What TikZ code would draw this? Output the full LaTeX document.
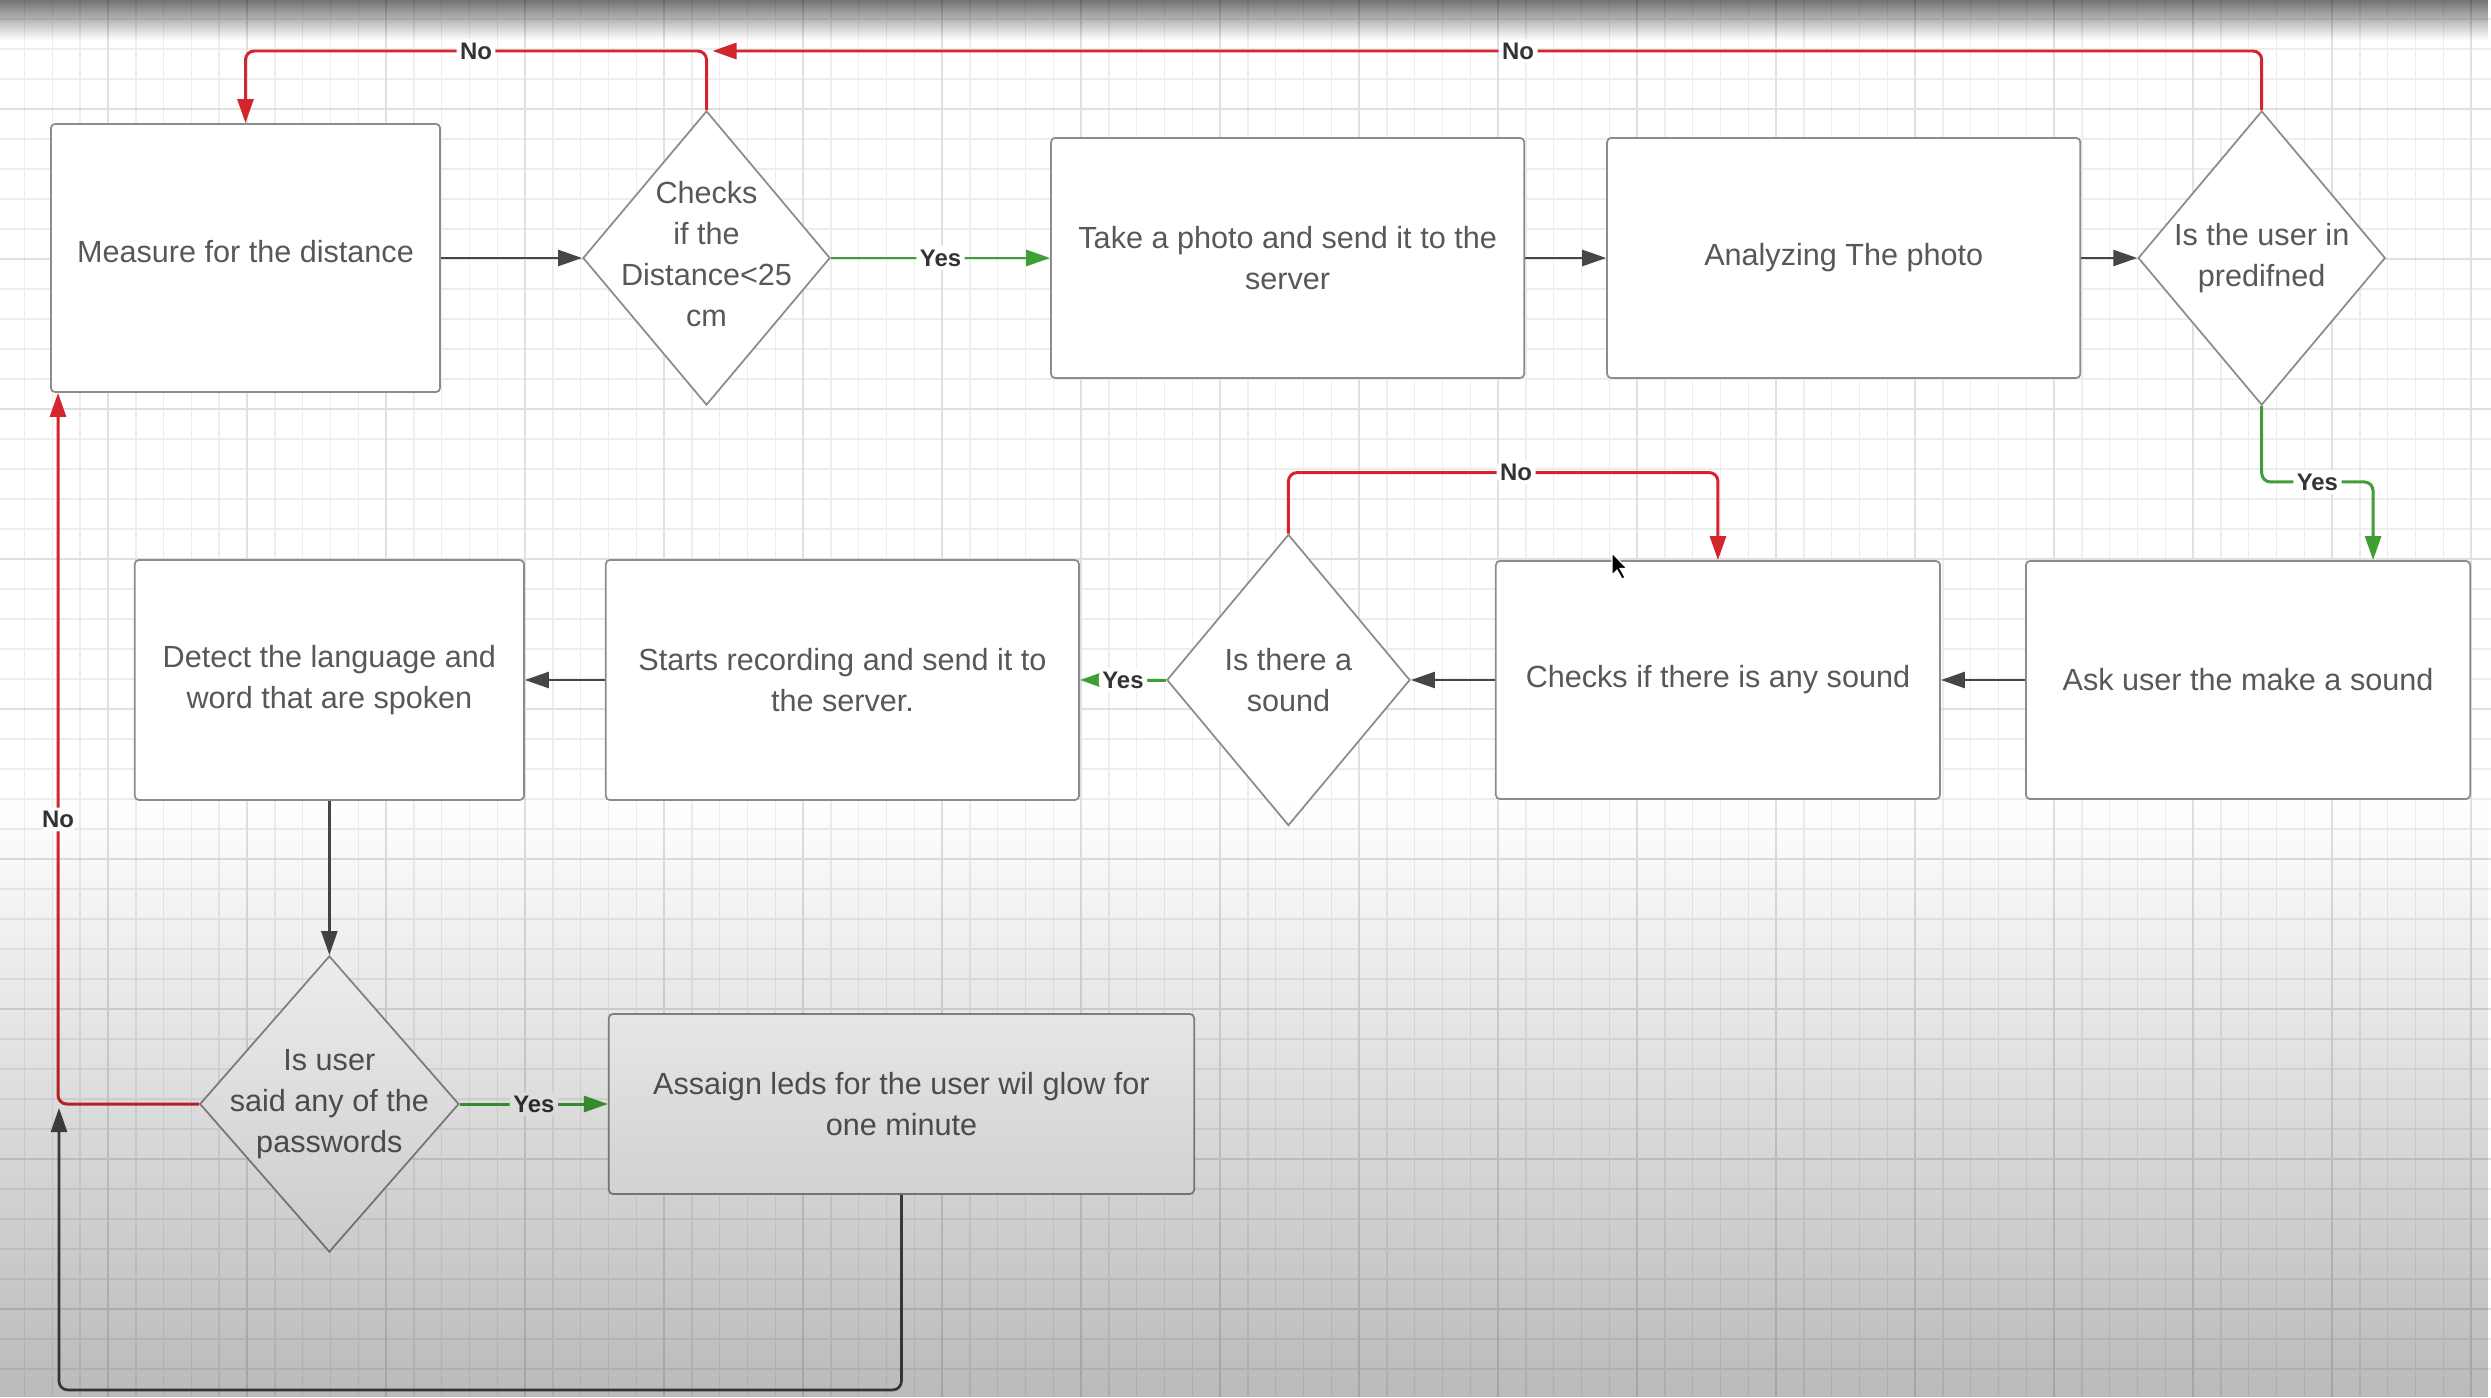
\documentclass[tikz,border=0pt]{standalone}
\usepackage{fontspec}
\setmainfont{Liberation Sans}
\usetikzlibrary{positioning, shapes.geometric, arrows.meta, fadings}

\definecolor{nored}{RGB}{212,36,44}
\definecolor{yesgreen}{RGB}{62,160,52}
\definecolor{boxtext}{RGB}{88,88,88}
\definecolor{boxline}{RGB}{140,140,140}
\definecolor{arrowgray}{RGB}{70,70,70}

\tikzfading[name=fadedown, top color=transparent!100, bottom color=transparent!0]
\tikzfading[name=fadeup, top color=transparent!0, bottom color=transparent!100]

\begin{document}
\begin{tikzpicture}[x=0.01cm, y=-0.01cm,
	box/.style={rectangle, draw=boxline, line width=0.5pt, rounded corners=1.2pt, fill=white, text=boxtext, align=center, font=\fontsize{8.7}{11.6}\selectfont, inner sep=0pt},
	decision/.style={diamond, draw=boxline, line width=0.5pt, fill=white, inner sep=0pt, minimum width=2.47cm, minimum height=2.94cm},
	dtext/.style={text=boxtext, align=center, font=\fontsize{8.7}{11.6}\selectfont},
	tip/.style={-{Triangle[length=0.24cm, width=0.16cm]}},
	flow/.style={tip, draw=arrowgray, line width=0.75pt},
	noline/.style={tip, draw=nored, line width=0.85pt, rounded corners=2.5pt},
	yesline/.style={tip, draw=yesgreen, line width=0.85pt, rounded corners=2.5pt},
	lbl/.style={fill=white, inner sep=1pt, text=black!80, font=\bfseries\fontsize{6.8}{7}\selectfont}]

	\clip (0,0) rectangle (2491,1397);
	\fill[white] (0,0) rectangle (2491,1397);
	\foreach \i in {0,...,89}
		\draw[black!7, line width=0.4pt] ({24.6+27.8*\i},0) -- ++(0,1397);
	\foreach \j in {0,...,46}
		\draw[black!7, line width=0.4pt] (0,{19+30*\j}) -- ++(2491,0);
	\foreach \i in {0,...,17}
		\draw[black!12, line width=0.6pt] ({108+139*\i},0) -- ++(0,1397);
	\foreach \j in {0,...,8}
		\draw[black!12, line width=0.6pt] (0,{109+150*\j}) -- ++(2491,0);

	\coordinate (toprow) at (0,51);
	\coordinate (loopend) at (59,1108);

	\node[box, minimum width=3.89cm, minimum height=2.68cm, label={[dtext, yshift=0.06cm]center:Measure for the distance}] (measure) at (245.5,258) {};
	\node[decision, right=1.41cm of measure, label={[dtext, yshift=0.04cm]center:Checks\\if the\\Distance<25\\cm}] (dist) {};
	\node[box, minimum width=4.73cm, minimum height=2.4cm, right=2.19cm of dist] (photo) {Take a photo and send it to the\\server};
	\node[box, minimum width=4.73cm, minimum height=2.4cm, right=0.81cm of photo] (analyze) {Analyzing The photo};
	\node[decision, right=0.56cm of analyze, label={[dtext]center:Is the user in\\predifned}] (predef) {};

	\node[box, minimum width=4.44cm, minimum height=2.38cm] (ask) at (2248,680) {Ask user the make a sound};
	\node[box, minimum width=4.44cm, minimum height=2.38cm, left=0.84cm of ask] (checks) {Checks if there is any sound};
	\node[decision, minimum width=2.43cm, minimum height=2.91cm, left=0.84cm of checks, label={[dtext]center:Is there a\\sound}] (sound) {};
	\node[box, minimum width=4.73cm, minimum height=2.4cm, left=0.86cm of sound] (record) {Starts recording and send it to\\the server.};
	\node[box, minimum width=3.89cm, minimum height=2.4cm, left=0.80cm of record] (detect) {Detect the language and\\word that are spoken};

	\node[decision, minimum width=2.59cm, minimum height=2.96cm, below=1.54cm of detect, label={[dtext]center:Is user\\said any of the\\passwords}] (pass) {};
	\node[box, minimum width=5.85cm, minimum height=1.8cm, right=1.48cm of pass] (leds) {Assaign leds for the user wil glow for\\one minute};

	\draw[flow] (measure.east) -- (dist.west);
	\draw[yesline] (dist.east) -- node[lbl] {Yes} (photo.west);
	\draw[flow] (photo.east) -- (analyze.west);
	\draw[flow] (analyze.east) -- (predef.west);
	\draw[noline] (predef.north) |- node[lbl, pos=0.74] {No} ([xshift=0.06cm]dist.north |- toprow);
	\draw[noline] (dist.north) |- node[lbl, pos=0.75] {No} (measure.north |- toprow) -- (measure.north);

	\draw[yesline] (predef.south) -- ++(0,76) -| node[lbl, pos=0.25] {Yes} ([xshift=1.25cm]ask.north);
	\draw[flow] (ask.west) -- (checks.east);
	\draw[flow] (checks.west) -- (sound.east);
	\draw[noline] (sound.north) -- ++(0,-61) -| node[lbl, pos=0.265] {No} (checks.north);
	\draw[yesline] (sound.west) -- node[lbl] {Yes} (record.east);
	\draw[flow] (record.west) -- (detect.east);

	\draw[flow] (detect.south) -- (pass.north);
	\draw[yesline] (pass.east) -- node[lbl] {Yes} (leds.west);
	\draw[noline] (pass.west) -| node[lbl, pos=0.7] {No} ([xshift=0.08cm]measure.south west);
	\draw[flow, rounded corners=2.5pt] (leds.south) -- ++(0,195) -| (loopend);

	\filldraw[black, draw=white, line width=0.3pt] (1612,553) -- ++(0,22) -- ++(5,-5) -- ++(5,9) -- ++(3,-1.5) -- ++(-5,-9) -- ++(7,0) -- cycle;

	\fill[black, opacity=0.27, path fading=fadedown] (0,800) rectangle (2491,1397);
	\fill[black, opacity=0.55, path fading=fadeup] (0,0) rectangle (2491,40);
\end{tikzpicture}
\end{document}
